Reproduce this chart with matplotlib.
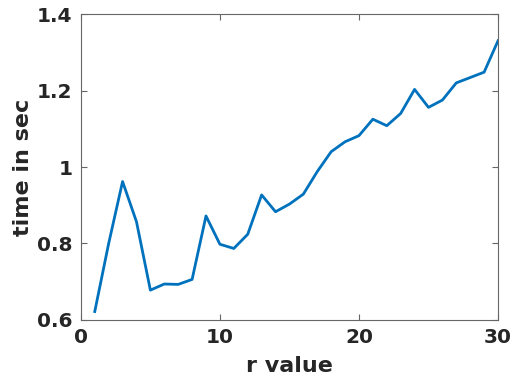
import matplotlib
matplotlib.use("Agg")
import matplotlib.pyplot as plt

r_values = list(range(1, 31))
times = [0.622, 0.800, 0.962, 0.857, 0.678, 0.694, 0.693, 0.706, 0.872, 0.798,
         0.787, 0.824, 0.927, 0.883, 0.903, 0.929, 0.988, 1.040, 1.066, 1.082,
         1.125, 1.108, 1.140, 1.203, 1.156, 1.175, 1.220, 1.234, 1.248, 1.330]

x_ticks = [0, 10, 20, 30]
y_ticks = [0.6, 0.8, 1.0, 1.2, 1.4]
y_tick_labels = ["0.6", "0.8", "1", "1.2", "1.4"]

axis_color = (0.15, 0.15, 0.15)

fig = plt.figure(figsize=(5.15, 3.8), dpi=100)
ax = fig.add_axes([0.157, 0.158, 0.81, 0.805])

ax.plot(r_values, times, color=(0, 0.447, 0.741), linewidth=2)

ax.set_xlim(0, 30)
ax.set_ylim(0.6, 1.4)
ax.set_xticks(x_ticks)
ax.set_xticklabels([str(t) for t in x_ticks])
ax.set_yticks(y_ticks)
ax.set_yticklabels(y_tick_labels)

ax.tick_params(direction="in", top=True, right=True, length=4, width=0.8,
               colors=(0.4, 0.4, 0.4), labelcolor=axis_color, labelsize=14.5, pad=6)
for lbl in ax.get_xticklabels() + ax.get_yticklabels():
    lbl.set_fontweight("bold")
for spine in ax.spines.values():
    spine.set_color((0.4, 0.4, 0.4))
    spine.set_linewidth(0.8)

ax.set_xlabel("r value", fontsize=16, fontweight="bold", color=axis_color, labelpad=6)
ax.set_ylabel("time in sec", fontsize=16, fontweight="bold", color=axis_color, labelpad=3)

fig.savefig("out.png", dpi=100)
